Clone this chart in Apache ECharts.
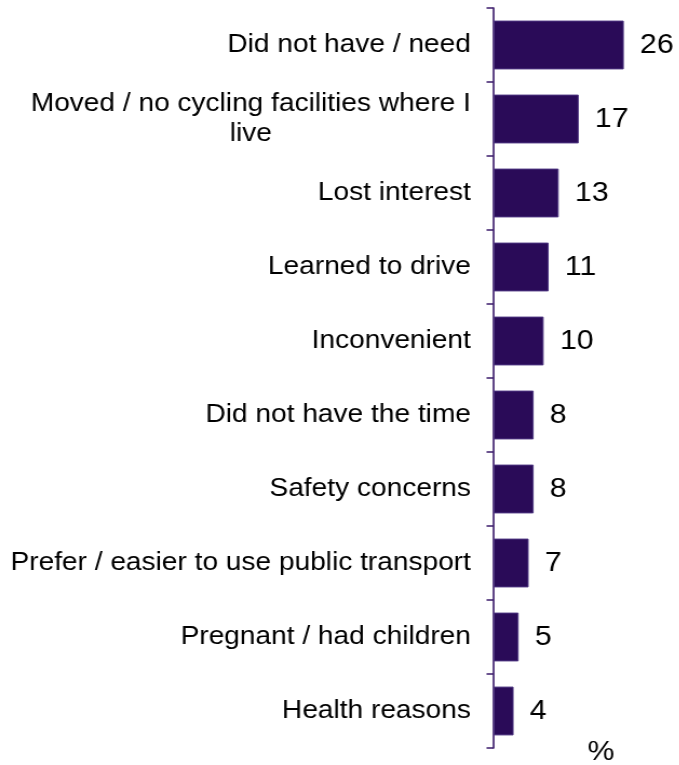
<!DOCTYPE html>
<html>
<head>
<meta charset="utf-8">
<script src="https://cdn.jsdelivr.net/npm/echarts@6/dist/echarts.min.js"></script>
<style>
  html, body { margin: 0; padding: 0; background: #fff; }
  #wrap { width: 679px; height: 765px; overflow: hidden; }
  /* chart is laid out slightly narrower and stretched horizontally to the full width */
  #chart { width: 629px; height: 765px; transform: scaleX(1.08); transform-origin: 0 0; }
</style>
</head>
<body>
<div id="wrap"><div id="chart"></div></div>
<script>
// Reasons for no longer cycling (%)
const categories = [
  'Did not have / need',
  'Moved / no cycling facilities where I\nlive',
  'Lost interest',
  'Learned to drive',
  'Inconvenient',
  'Did not have the time',
  'Safety concerns',
  'Prefer / easier to use public transport',
  'Pregnant / had children',
  'Health reasons'
];
const values = [26, 17, 13, 11, 10, 8, 8, 7, 5, 4];
const unitLabel = '%';

const FONT = '"Liberation Sans", Arial, sans-serif';
const chart = echarts.init(document.getElementById('chart'), null, { renderer: 'canvas' });

chart.setOption({
  animation: false,
  backgroundColor: '#ffffff',
  grid: { left: 457, right: 5, top: 8, bottom: 17, containLabel: false },
  xAxis: {
    type: 'value',
    min: 0,
    max: 36,
    show: false
  },
  yAxis: {
    type: 'category',
    inverse: true,
    data: categories,
    axisLine: { show: true, lineStyle: { color: '#3a1a6a', width: 1.6 } },
    axisTick: { show: true, length: 6.5, lineStyle: { color: '#3a1a6a', width: 1.5 } },
    axisLabel: {
      margin: 21,
      color: '#000',
      fontFamily: FONT,
      fontSize: 26,
      lineHeight: 30,
      formatter: function (v) {
        if (v.indexOf('\n') < 0) return v;
        return v.split('\n').map(function (s) { return '{c|' + s + '}'; }).join('\n');
      },
      rich: {
        c: { align: 'center', fontFamily: FONT, fontSize: 26, lineHeight: 30, color: '#000' }
      }
    },
    splitLine: { show: false }
  },
  series: [{
    type: 'bar',
    data: values,
    barWidth: '66%',
    itemStyle: { color: '#2a0b58', borderColor: '#4d3580', borderWidth: 1 },
    label: {
      show: true,
      position: 'right',
      distance: 15,
      color: '#000',
      fontFamily: FONT,
      fontSize: 28
    }
  }],
  graphic: [{
    type: 'text',
    left: 544,
    top: 738,
    style: { text: unitLabel, fill: '#000', font: '28px ' + FONT }
  }]
});
</script>
</body>
</html>
